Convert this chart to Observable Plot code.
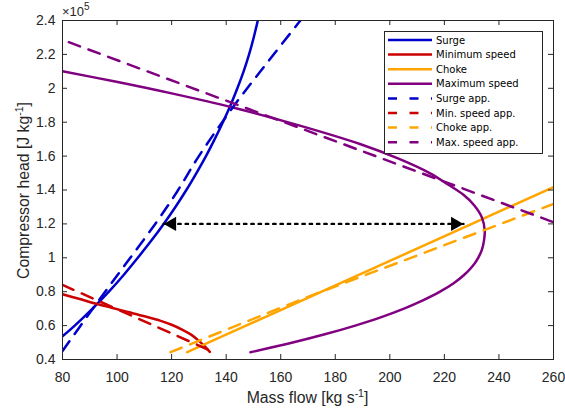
<!DOCTYPE html>
<html><head><meta charset="utf-8">
<script src="https://cdn.jsdelivr.net/npm/d3@7"></script>
<script src="https://cdn.jsdelivr.net/npm/@observablehq/plot@0.6"></script>
<style>
body{margin:0;background:#fff}
#chart{width:565px;height:417px}
</style>
</head><body><div id="chart"></div>
<script>
// ---- data (head in units of 1e5 J/kg) ----
const xTicks = [80,100,120,140,160,180,200,220,240,260];
const yTicks = [0.4,0.6,0.8,1,1.2,1.4,1.6,1.8,2,2.2,2.4];

const surgeMass = [80,84.5,91,97,102.5,107.6,112.5,117.1,121.4,125.4,129.1,132.6,135.8,138.8,141.6,144.1,146.4,148.4,150.1,151.6];
const surgeHead = [0.537,0.6,0.7,0.8,0.9,1.0,1.1,1.2,1.3,1.4,1.5,1.6,1.7,1.8,1.9,2.0,2.1,2.2,2.3,2.4];

const minMass = [80,86,92,98,104,110,116,120,124,127,130,132,134];
const minHead = [0.785,0.758,0.73,0.705,0.68,0.655,0.628,0.605,0.575,0.548,0.51,0.48,0.445];

const chokeMass = [125.7,260];
const chokeHead = [0.443,1.417];

const maxMass = [80,99.3,120,142.1,167,189.3,203.2,214.6,221,227.1,230.9,233.7,234.8,234.5,233.8,232.4,230.3,227.3,223.4,218.4,212.3,205.2,196.9,187.3,176.5,164.4,148.9];
const maxHead = [2.1,2.04,1.97,1.888,1.78,1.67,1.585,1.5,1.436,1.37,1.31,1.24,1.16,1.1,1.05,1.0,0.95,0.9,0.85,0.8,0.75,0.7,0.65,0.6,0.55,0.5,0.443];

const surgeAppMass = [80,92,103,114,122,130,143,155,167.2];
const surgeAppHead = [0.45,0.72,0.96,1.2,1.39,1.6,1.9,2.15,2.4];

const minAppMass = [80,134.5];
const minAppHead = [0.84,0.45];

const chokeAppMass = [119.6,170,260];
const chokeAppHead = [0.443,0.77,1.318];

const maxAppMass = [82.3,260];
const maxAppHead = [2.272,1.21];

const arrowMass = [117.1,227];
const arrowHead = [1.2,1.2];

const legendLabels = ["Surge","Minimum speed","Choke","Maximum speed","Surge app.","Min. speed app.","Choke app.","Max. speed app."];
const legendColors = ["#0000cc","#cc0000","#ffa500","#800080","#0000cc","#cc0000","#ffa500","#800080"];
const legendDashed = [false,false,false,false,true,true,true,true];

const rows = (xs, ys) => xs.map((x, i) => ({x, y: ys[i]}));

const W = 565, H = 417, mL = 62, mR = 12, mT = 20, mB = 58;
const pw = W - mL - mR, ph = H - mT - mB;
const axisColor = "#262626";
const lw = 2.5;
const dash = "12,9";

const solid = (xs, ys, color, curve) => Plot.line(rows(xs, ys), {x: "x", y: "y", stroke: color, strokeWidth: lw, curve, clip: true});
const dashed = (xs, ys, color, curve) => Plot.line(rows(xs, ys), {x: "x", y: "y", stroke: color, strokeWidth: lw, strokeDasharray: dash, curve, clip: true});

const arrowRows = rows(arrowMass, arrowHead);

const svg = Plot.plot({
  width: W, height: H,
  marginLeft: mL, marginRight: mR, marginTop: mT, marginBottom: mB,
  style: {fontFamily: "'Liberation Sans', Arial, sans-serif", fontSize: "14px", color: axisColor, background: "#fff"},
  x: {domain: [80, 260]},
  y: {domain: [0.4, 2.4]},
  marks: [
    solid(surgeMass, surgeHead, "#0000cc", "catmull-rom"),
    solid(minMass, minHead, "#cc0000", "catmull-rom"),
    solid(chokeMass, chokeHead, "#ffa500", "linear"),
    solid(maxMass, maxHead, "#800080", "catmull-rom"),
    dashed(surgeAppMass, surgeAppHead, "#0000cc", "catmull-rom"),
    dashed(minAppMass, minAppHead, "#cc0000", "linear"),
    dashed(chokeAppMass, chokeAppHead, "#ffa500", "linear"),
    dashed(maxAppMass, maxAppHead, "#800080", "linear"),
    Plot.line(arrowRows, {x: "x", y: "y", stroke: "black", strokeWidth: 2.4, strokeDasharray: "2.4,4.9"}),
    Plot.dot([arrowRows[0]], {x: "x", y: "y", symbol: "triangle", r: 5.3, fill: "black", stroke: "none", rotate: -90, dx: 8.3}),
    Plot.dot([arrowRows[1]], {x: "x", y: "y", symbol: "triangle", r: 5.3, fill: "black", stroke: "none", rotate: 90, dx: -8.3}),
    Plot.frame({stroke: axisColor}),
    Plot.ruleX(xTicks, {x: d => d, insetTop: ph - 5, stroke: axisColor}),
    Plot.ruleX(xTicks, {x: d => d, insetBottom: ph - 5, stroke: axisColor}),
    Plot.ruleY(yTicks, {y: d => d, insetRight: pw - 5, stroke: axisColor}),
    Plot.ruleY(yTicks, {y: d => d, insetLeft: pw - 5, stroke: axisColor}),
    Plot.axisX({ticks: xTicks, tickSize: 0, tickPadding: 13, label: null, tickFormat: d => String(d)}),
    Plot.axisY({ticks: yTicks, tickSize: 0, tickPadding: 7, label: null, tickFormat: d3.format("~g")})
  ]
});

const s = d3.select(svg);
const font = "'Liberation Sans', Arial, sans-serif";

// x label
const xl = s.append("text").attr("x", mL + pw / 2).attr("y", 403).attr("text-anchor", "middle")
  .attr("font-family", font).attr("font-size", 15.8).attr("fill", axisColor);
xl.append("tspan").text("Mass flow [kg s");
xl.append("tspan").attr("dy", -6).attr("font-size", 10.5).text("-1");
xl.append("tspan").attr("dy", 6).text("]");

// y label
const yl = s.append("text").attr("transform", `translate(29,${mT + ph / 2 + 1}) rotate(-90)`).attr("text-anchor", "middle")
  .attr("font-family", font).attr("font-size", 15.8).attr("fill", axisColor);
yl.append("tspan").text("Compressor head [J kg");
yl.append("tspan").attr("dy", -6).attr("font-size", 10.5).text("-1");
yl.append("tspan").attr("dy", 6).text("]");

// exponent
const ex = s.append("text").attr("x", 62).attr("y", 16).attr("text-anchor", "start")
  .attr("font-family", font).attr("font-size", 13).attr("fill", axisColor);
ex.append("tspan").text("×10");
ex.append("tspan").attr("dy", -6).attr("font-size", 10).text("5");

// legend
const lg = s.append("g");
lg.append("rect").attr("x", 384.5).attr("y", 31.5).attr("width", 158).attr("height", 122)
  .attr("fill", "#fff").attr("stroke", axisColor).attr("stroke-width", 1);
legendLabels.forEach((lab, i) => {
  const yy = 40 + i * 14.6;
  lg.append("line").attr("x1", 388).attr("x2", 432).attr("y1", yy).attr("y2", yy)
    .attr("stroke", legendColors[i]).attr("stroke-width", lw)
    .attr("stroke-dasharray", legendDashed[i] ? "9,12.5" : null);
  lg.append("text").attr("x", 436).attr("y", yy).attr("dy", "0.35em").attr("text-anchor", "start")
    .attr("font-family", "'DejaVu Sans', Verdana, sans-serif").attr("font-size", 10).attr("fill", "#000").text(lab);
});

document.getElementById("chart").appendChild(svg);
</script>
</body></html>
